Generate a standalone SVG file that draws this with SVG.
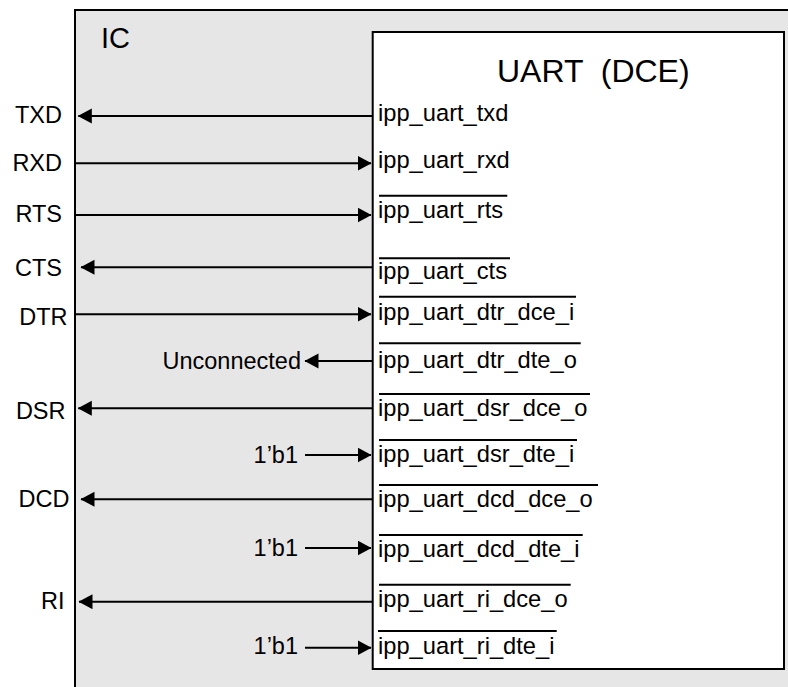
<svg xmlns="http://www.w3.org/2000/svg" width="788" height="687" viewBox="0 0 788 687">
<defs>
<marker id="arr" markerUnits="userSpaceOnUse" markerWidth="15" markerHeight="16" refX="13.5" refY="7.5" orient="auto">
<path d="M0,0 L14,7.5 L0,15 z" fill="#000"/>
</marker>
<style>
text{font-family:"Liberation Sans",Arial,Helvetica,sans-serif;fill:#000}
.sig{font-size:23.7px}
.lbl{font-size:23.5px;text-anchor:end}
.ln{stroke:#000;stroke-width:2;fill:none;marker-end:url(#arr)}
.ov{stroke:#000;stroke-width:2}
</style>
</defs>
<rect width="788" height="687" fill="#fff"/>
<g id="ic">
<rect x="75" y="10" width="730" height="700" fill="#e6e6e6" stroke="#000" stroke-width="2"/>
<text x="101" y="47.5" style="font-size:29px">IC</text>
</g>
<g id="uart">
<rect x="372.7" y="32" width="411.3" height="637" fill="#fff" stroke="#000" stroke-width="2"/>
<text x="497" y="82" style="font-size:32px" xml:space="preserve">UART  (DCE)</text>
<text class="sig" x="378" y="121">ipp_uart_txd</text>
<text class="sig" x="378" y="168">ipp_uart_rxd</text>
<text class="sig" x="378" y="218.3">ipp_uart_rts</text>
<text class="sig" x="378" y="279.3">ipp_uart_cts</text>
<text class="sig" x="378" y="320">ipp_uart_dtr_dce_i</text>
<text class="sig" x="378" y="368.3">ipp_uart_dtr_dte_o</text>
<text class="sig" x="378" y="416">ipp_uart_dsr_dce_o</text>
<text class="sig" x="378" y="461.7">ipp_uart_dsr_dte_i</text>
<text class="sig" x="378" y="507.3">ipp_uart_dcd_dce_o</text>
<text class="sig" x="378" y="556.5">ipp_uart_dcd_dte_i</text>
<text class="sig" x="378" y="607.3">ipp_uart_ri_dce_o</text>
<text class="sig" x="378" y="654">ipp_uart_ri_dte_i</text>
<line class="ov" x1="379" y1="195.7" x2="507.3" y2="195.7"/>
<line class="ov" x1="379" y1="258.3" x2="510" y2="258.3"/>
<line class="ov" x1="379" y1="296.7" x2="576" y2="296.7"/>
<line class="ov" x1="379" y1="343.3" x2="580.7" y2="343.3"/>
<line class="ov" x1="379" y1="394" x2="590" y2="394"/>
<line class="ov" x1="379" y1="440" x2="577" y2="440"/>
<line class="ov" x1="379" y1="485" x2="598" y2="485"/>
<line class="ov" x1="379" y1="535" x2="582.7" y2="535"/>
<line class="ov" x1="379" y1="584.7" x2="570.7" y2="584.7"/>
<line class="ov" x1="378" y1="631" x2="556.7" y2="631"/>
</g>
<g id="labels">
<text class="lbl" x="62" y="122.7">TXD</text>
<text class="lbl" x="62" y="171">RXD</text>
<text class="lbl" x="62" y="221.7">RTS</text>
<text class="lbl" x="62" y="276">CTS</text>
<text class="lbl" x="67.5" y="325">DTR</text>
<text class="lbl" x="301" y="369">Unconnected</text>
<text class="lbl" x="65.5" y="419">DSR</text>
<text class="lbl" x="298" y="462.5">1’b1</text>
<text class="lbl" x="69.5" y="506.7">DCD</text>
<text class="lbl" x="298" y="556">1’b1</text>
<text class="lbl" x="64.5" y="609.3">RI</text>
<text class="lbl" x="298" y="654">1’b1</text>
</g>
<g id="connectors">
<line class="ln" x1="372" y1="116" x2="78.3" y2="116"/>
<line class="ln" x1="76" y1="163.3" x2="371" y2="163.3"/>
<line class="ln" x1="76" y1="215" x2="371" y2="215"/>
<line class="ln" x1="372" y1="267.3" x2="81" y2="267.3"/>
<line class="ln" x1="76" y1="314.3" x2="371" y2="314.3"/>
<line class="ln" x1="372" y1="361" x2="305" y2="361"/>
<line class="ln" x1="372" y1="408.3" x2="78.3" y2="408.3"/>
<line class="ln" x1="305" y1="455" x2="371" y2="455"/>
<line class="ln" x1="372" y1="499.3" x2="81" y2="499.3"/>
<line class="ln" x1="305" y1="548" x2="371" y2="548"/>
<line class="ln" x1="372" y1="601.7" x2="79" y2="601.7"/>
<line class="ln" x1="305" y1="647.7" x2="371" y2="647.7"/>
</g>
</svg>
